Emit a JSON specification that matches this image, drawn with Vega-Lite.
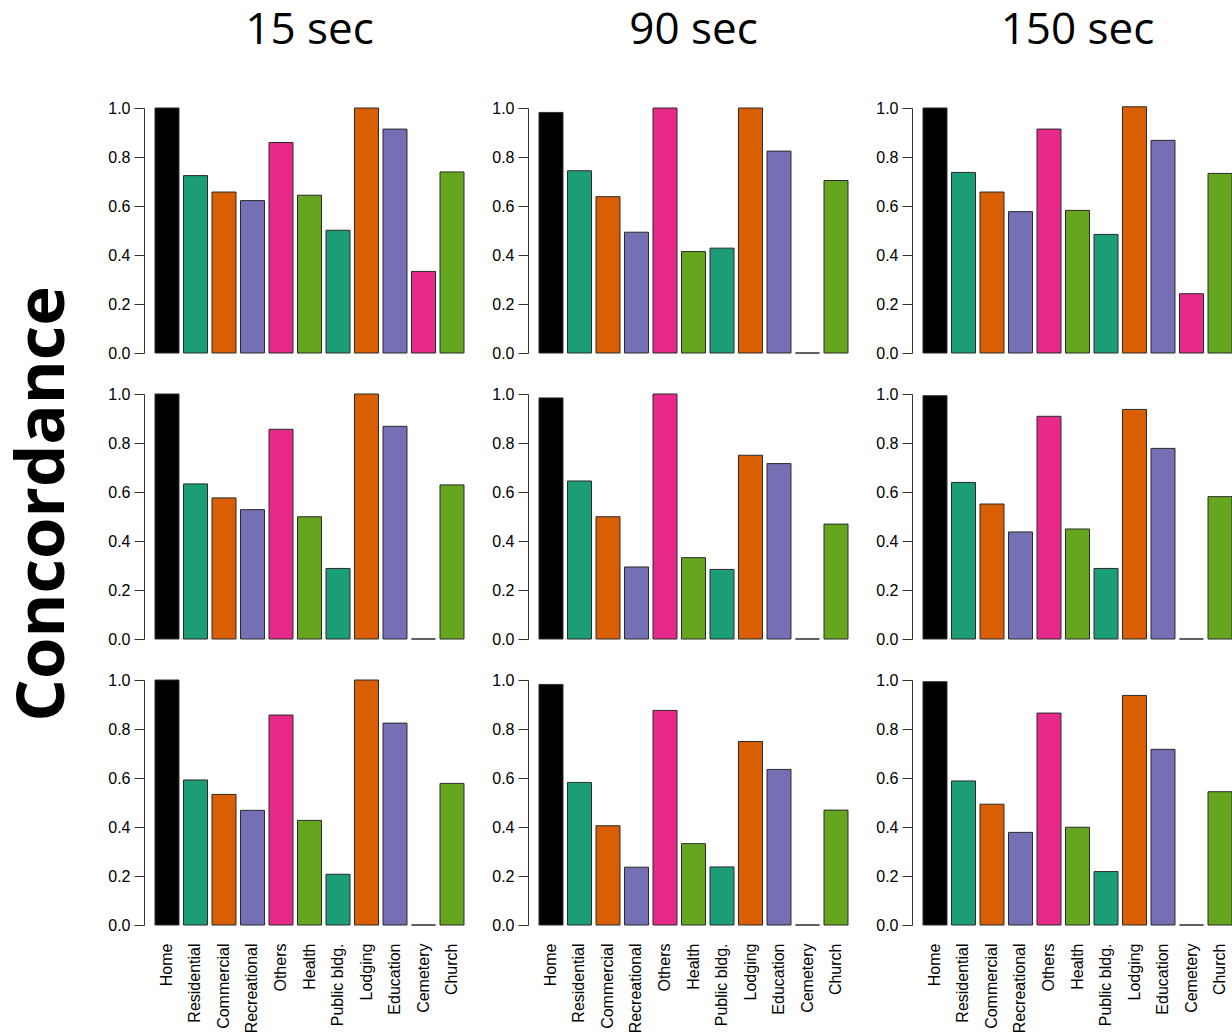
{
  "$schema": "https://vega.github.io/schema/vega-lite/v6.json",
  "background": "white",
  "padding": {"left": 9, "top": 9, "right": 0, "bottom": 0},
  "title": {"text": "Concordance", "orient": "left", "anchor": "middle", "font": "Open Sans", "fontSize": 67, "fontWeight": "bold", "color": "#000", "offset": 30, "dx": 17},
  "datasets": {
    "bars": [
      {"t": "15 sec", "p": "a", "c": "Home", "v": 1.0},
      {"t": "15 sec", "p": "a", "c": "Residential", "v": 0.724},
      {"t": "15 sec", "p": "a", "c": "Commercial", "v": 0.657},
      {"t": "15 sec", "p": "a", "c": "Recreational", "v": 0.622},
      {"t": "15 sec", "p": "a", "c": "Others", "v": 0.859},
      {"t": "15 sec", "p": "a", "c": "Health", "v": 0.644},
      {"t": "15 sec", "p": "a", "c": "Public bldg.", "v": 0.501},
      {"t": "15 sec", "p": "a", "c": "Lodging", "v": 1.0},
      {"t": "15 sec", "p": "a", "c": "Education", "v": 0.914},
      {"t": "15 sec", "p": "a", "c": "Cemetery", "v": 0.333},
      {"t": "15 sec", "p": "a", "c": "Church", "v": 0.739},
      {"t": "90 sec", "p": "a", "c": "Home", "v": 0.982},
      {"t": "90 sec", "p": "a", "c": "Residential", "v": 0.744},
      {"t": "90 sec", "p": "a", "c": "Commercial", "v": 0.638},
      {"t": "90 sec", "p": "a", "c": "Recreational", "v": 0.493},
      {"t": "90 sec", "p": "a", "c": "Others", "v": 1.0},
      {"t": "90 sec", "p": "a", "c": "Health", "v": 0.414},
      {"t": "90 sec", "p": "a", "c": "Public bldg.", "v": 0.428},
      {"t": "90 sec", "p": "a", "c": "Lodging", "v": 1.0},
      {"t": "90 sec", "p": "a", "c": "Education", "v": 0.824},
      {"t": "90 sec", "p": "a", "c": "Cemetery", "v": 0},
      {"t": "90 sec", "p": "a", "c": "Church", "v": 0.704},
      {"t": "150 sec", "p": "a", "c": "Home", "v": 1.0},
      {"t": "150 sec", "p": "a", "c": "Residential", "v": 0.737},
      {"t": "150 sec", "p": "a", "c": "Commercial", "v": 0.657},
      {"t": "150 sec", "p": "a", "c": "Recreational", "v": 0.577},
      {"t": "150 sec", "p": "a", "c": "Others", "v": 0.914},
      {"t": "150 sec", "p": "a", "c": "Health", "v": 0.582},
      {"t": "150 sec", "p": "a", "c": "Public bldg.", "v": 0.484},
      {"t": "150 sec", "p": "a", "c": "Lodging", "v": 1.005},
      {"t": "150 sec", "p": "a", "c": "Education", "v": 0.868},
      {"t": "150 sec", "p": "a", "c": "Cemetery", "v": 0.242},
      {"t": "150 sec", "p": "a", "c": "Church", "v": 0.733},
      {"t": "15 sec", "p": "b", "c": "Home", "v": 1.0},
      {"t": "15 sec", "p": "b", "c": "Residential", "v": 0.633},
      {"t": "15 sec", "p": "b", "c": "Commercial", "v": 0.576},
      {"t": "15 sec", "p": "b", "c": "Recreational", "v": 0.528},
      {"t": "15 sec", "p": "b", "c": "Others", "v": 0.856},
      {"t": "15 sec", "p": "b", "c": "Health", "v": 0.499},
      {"t": "15 sec", "p": "b", "c": "Public bldg.", "v": 0.288},
      {"t": "15 sec", "p": "b", "c": "Lodging", "v": 1.0},
      {"t": "15 sec", "p": "b", "c": "Education", "v": 0.868},
      {"t": "15 sec", "p": "b", "c": "Cemetery", "v": 0},
      {"t": "15 sec", "p": "b", "c": "Church", "v": 0.629},
      {"t": "90 sec", "p": "b", "c": "Home", "v": 0.984},
      {"t": "90 sec", "p": "b", "c": "Residential", "v": 0.645},
      {"t": "90 sec", "p": "b", "c": "Commercial", "v": 0.499},
      {"t": "90 sec", "p": "b", "c": "Recreational", "v": 0.294},
      {"t": "90 sec", "p": "b", "c": "Others", "v": 1.0},
      {"t": "90 sec", "p": "b", "c": "Health", "v": 0.332},
      {"t": "90 sec", "p": "b", "c": "Public bldg.", "v": 0.284},
      {"t": "90 sec", "p": "b", "c": "Lodging", "v": 0.75},
      {"t": "90 sec", "p": "b", "c": "Education", "v": 0.716},
      {"t": "90 sec", "p": "b", "c": "Cemetery", "v": 0},
      {"t": "90 sec", "p": "b", "c": "Church", "v": 0.469},
      {"t": "150 sec", "p": "b", "c": "Home", "v": 0.993},
      {"t": "150 sec", "p": "b", "c": "Residential", "v": 0.639},
      {"t": "150 sec", "p": "b", "c": "Commercial", "v": 0.551},
      {"t": "150 sec", "p": "b", "c": "Recreational", "v": 0.437},
      {"t": "150 sec", "p": "b", "c": "Others", "v": 0.909},
      {"t": "150 sec", "p": "b", "c": "Health", "v": 0.449},
      {"t": "150 sec", "p": "b", "c": "Public bldg.", "v": 0.288},
      {"t": "150 sec", "p": "b", "c": "Lodging", "v": 0.937},
      {"t": "150 sec", "p": "b", "c": "Education", "v": 0.778},
      {"t": "150 sec", "p": "b", "c": "Cemetery", "v": 0},
      {"t": "150 sec", "p": "b", "c": "Church", "v": 0.581},
      {"t": "15 sec", "p": "c", "c": "Home", "v": 1.0},
      {"t": "15 sec", "p": "c", "c": "Residential", "v": 0.592},
      {"t": "15 sec", "p": "c", "c": "Commercial", "v": 0.533},
      {"t": "15 sec", "p": "c", "c": "Recreational", "v": 0.468},
      {"t": "15 sec", "p": "c", "c": "Others", "v": 0.857},
      {"t": "15 sec", "p": "c", "c": "Health", "v": 0.427},
      {"t": "15 sec", "p": "c", "c": "Public bldg.", "v": 0.207},
      {"t": "15 sec", "p": "c", "c": "Lodging", "v": 1.0},
      {"t": "15 sec", "p": "c", "c": "Education", "v": 0.824},
      {"t": "15 sec", "p": "c", "c": "Cemetery", "v": 0},
      {"t": "15 sec", "p": "c", "c": "Church", "v": 0.578},
      {"t": "90 sec", "p": "c", "c": "Home", "v": 0.982},
      {"t": "90 sec", "p": "c", "c": "Residential", "v": 0.582},
      {"t": "90 sec", "p": "c", "c": "Commercial", "v": 0.405},
      {"t": "90 sec", "p": "c", "c": "Recreational", "v": 0.236},
      {"t": "90 sec", "p": "c", "c": "Others", "v": 0.876},
      {"t": "90 sec", "p": "c", "c": "Health", "v": 0.332},
      {"t": "90 sec", "p": "c", "c": "Public bldg.", "v": 0.237},
      {"t": "90 sec", "p": "c", "c": "Lodging", "v": 0.749},
      {"t": "90 sec", "p": "c", "c": "Education", "v": 0.635},
      {"t": "90 sec", "p": "c", "c": "Cemetery", "v": 0},
      {"t": "90 sec", "p": "c", "c": "Church", "v": 0.469},
      {"t": "150 sec", "p": "c", "c": "Home", "v": 0.993},
      {"t": "150 sec", "p": "c", "c": "Residential", "v": 0.588},
      {"t": "150 sec", "p": "c", "c": "Commercial", "v": 0.493},
      {"t": "150 sec", "p": "c", "c": "Recreational", "v": 0.378},
      {"t": "150 sec", "p": "c", "c": "Others", "v": 0.865},
      {"t": "150 sec", "p": "c", "c": "Health", "v": 0.399},
      {"t": "150 sec", "p": "c", "c": "Public bldg.", "v": 0.218},
      {"t": "150 sec", "p": "c", "c": "Lodging", "v": 0.937},
      {"t": "150 sec", "p": "c", "c": "Education", "v": 0.717},
      {"t": "150 sec", "p": "c", "c": "Cemetery", "v": 0},
      {"t": "150 sec", "p": "c", "c": "Church", "v": 0.544}
    ]
  },
  "data": {"name": "bars"},
  "facet": {
    "row": {
      "field": "p", "type": "ordinal",
      "header": {"labels": false, "title": null}
    },
    "column": {
      "field": "t", "type": "ordinal", "sort": ["15 sec", "90 sec", "150 sec"],
      "header": {"title": null, "labelFont": "Open Sans", "labelFontSize": 44, "labelPadding": 47, "labelColor": "#000"}
    }
  },
  "spacing": {"row": 25, "column": 16},
  "resolve": {"axis": {"y": "independent"}},
  "spec": {
    "width": 331,
    "height": 245,
    "mark": {"type": "bar", "stroke": "#2a2a2a", "strokeWidth": 1, "clip": false},
    "encoding": {
      "x": {
        "field": "c", "type": "nominal",
        "sort": ["Home", "Residential", "Commercial", "Recreational", "Others", "Health", "Public bldg.", "Lodging", "Education", "Cemetery", "Church"],
        "scale": {"paddingInner": 0.158, "paddingOuter": 0.386},
        "axis": {"title": null, "labelAngle": -90, "ticks": false, "domain": false, "labelFont": "Liberation Sans", "labelFontSize": 16, "labelPadding": 10, "labelColor": "#000"}
      },
      "y": {
        "field": "v", "type": "quantitative",
        "scale": {"domain": [0, 1], "nice": false},
        "axis": {"title": null, "values": [0, 0.2, 0.4, 0.6, 0.8, 1], "format": ".1f", "tickSize": 10, "tickColor": "#333", "domainColor": "#333", "labelFont": "Liberation Sans", "labelFontSize": 16, "labelColor": "#000", "labelPadding": 4, "labelFlush": false, "labelOverlap": false, "grid": false}
      },
      "color": {
        "field": "c", "type": "nominal", "legend": null,
        "scale": {
          "domain": ["Home", "Residential", "Commercial", "Recreational", "Others", "Health", "Public bldg.", "Lodging", "Education", "Cemetery", "Church"],
          "range": ["#000000", "#1b9e77", "#d95f02", "#7570b3", "#e7298a", "#66a61e", "#1b9e77", "#d95f02", "#7570b3", "#e7298a", "#66a61e"]
        }
      }
    }
  },
  "config": {"view": {"stroke": null}, "axis": {"grid": false}}
}
